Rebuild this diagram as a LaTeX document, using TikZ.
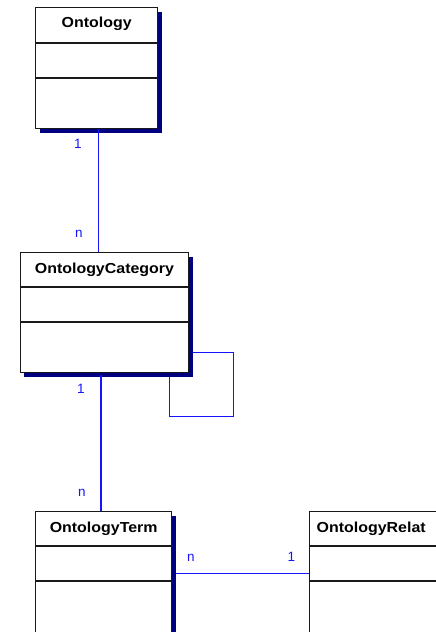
\documentclass[tikz,border=0pt]{standalone}
\usepackage{fontspec}
\setmainfont{Liberation Sans}
\newfontfamily\titlefont{Liberation Sans}[FakeStretch=1.1]
\usetikzlibrary{shadows}
\definecolor{shadowc}{RGB}{0,0,128}
\definecolor{linkc}{RGB}{20,20,255}
\definecolor{boxc}{RGB}{25,25,25}
\tikzset{
  umlbox/.style={draw=boxc, line width=1.35pt, fill=white, anchor=north west, inner sep=0pt,
    general shadow={fill=shadowc, shadow xshift=4pt, shadow yshift=-4pt}},
  divider/.style={draw=boxc, line width=1.35pt},
  title/.style={font=\titlefont\bfseries\fontsize{14.5}{16}\selectfont, anchor=base, inner sep=0pt},
  link/.style={draw=linkc, line width=1.35pt},
  mult/.style={font=\fontsize{13.5}{15}\selectfont, text=linkc, inner sep=0pt}
}
\begin{document}
\begin{tikzpicture}[x=1pt,y=-1pt]
\useasboundingbox (0,0) rectangle (436,632);
\clip (0,0) rectangle (436,632);

% Ontology
\node[umlbox, minimum width=122pt, minimum height=121pt] (ont) at (35,7) {};
\draw[divider] ([yshift=-36pt]ont.north west) -- ([yshift=-36pt]ont.north east);
\draw[divider] ([yshift=-71pt]ont.north west) -- ([yshift=-71pt]ont.north east);
\node[title] (ontT) at ([yshift=-20.5pt]ont.north) {Ontology};

% OntologyCategory
\node[umlbox, minimum width=168.5pt, minimum height=120pt] (oc) at (19.5,252) {};
\draw[divider] ([yshift=-35pt]oc.north west) -- ([yshift=-35pt]oc.north east);
\draw[divider] ([yshift=-70pt]oc.north west) -- ([yshift=-70pt]oc.north east);
\node[title] (ocT) at ([yshift=-21pt]oc.north) {OntologyCategory};

% OntologyTerm
\node[umlbox, minimum width=136pt, minimum height=150pt] (ot) at (35,511) {};
\draw[divider] ([yshift=-35pt]ot.north west) -- ([yshift=-35pt]ot.north east);
\draw[divider] ([yshift=-70pt]ot.north west) -- ([yshift=-70pt]ot.north east);
\node[title] (otT) at ([yshift=-21pt]ot.north) {OntologyTerm};

% OntologyRelationship (cut at the right edge)
\node[umlbox, minimum width=190pt, minimum height=150pt] (or) at (309,511) {};
\draw[divider] ([yshift=-35pt]or.north west) -- ([yshift=-35pt]or.north east);
\draw[divider] ([yshift=-70pt]or.north west) -- ([yshift=-70pt]or.north east);
\node[title, anchor=base west] (orT) at ([xshift=7.5pt,yshift=-21pt]or.north west) {OntologyRelat};

% connectors
\coordinate (c1) at ([xshift=2pt]ont.south);
\draw[link] (c1) -- (c1 |- oc.north);
\coordinate (c2) at ([xshift=-3.5pt]oc.south);
\draw[link] ([yshift=-2pt]c2) -- (c2 |- ot.north);
\coordinate (c3) at ([xshift=4pt,yshift=-40pt]oc.east);
\draw[link] (c3) -- ++(40,0) -- ++(0,64) -- ++(-64,0) -- ++(0,-40);
\coordinate (c4) at ([xshift=4pt,yshift=-62.7pt]ot.north east);
\draw[link] (c4) -- (c4 -| or.west);

% multiplicities
\node[mult] (m1) at (78,143.5) {1};
\node[mult] (m2) at (79,233.5) {n};
\node[mult] (m3) at (81,389) {1};
\node[mult] (m4) at (82,493) {n};
\node[mult] (m5) at (191,557.5) {n};
\node[mult] (m6) at (291.5,557) {1};
\end{tikzpicture}
\end{document}
